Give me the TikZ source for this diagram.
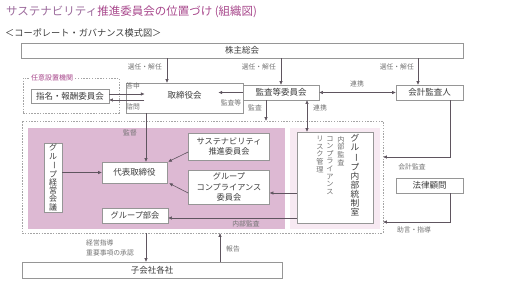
\documentclass[tikz,border=0pt]{standalone}
\usepackage{fontspec}
\setmainfont{Noto Sans CJK JP}
\usepackage{graphicx}
\usepackage{tikz}
\usetikzlibrary{arrows.meta,positioning,calc}
\definecolor{ttlpink}{RGB}{168,72,140}
\definecolor{ttlgray}{RGB}{155,105,155}
\definecolor{txtgray}{RGB}{60,60,60}
\definecolor{lblgray}{RGB}{115,115,115}
\definecolor{boxgray}{RGB}{150,150,150}
\definecolor{dashgray}{RGB}{165,165,165}
\definecolor{arrgray}{RGB}{95,85,95}
\definecolor{deeppink}{RGB}{221,185,211}
\definecolor{palepink}{RGB}{247,233,242}
\newcommand{\chouon}{\rotatebox[origin=c]{-90}{ー}}

\begin{document}
\begin{tikzpicture}[x=1pt,y=-1pt,
  box/.style={draw=boxgray,line width=0.7pt,fill=white,inner sep=0pt,text=txtgray,font=\fontsize{8.5}{10}\selectfont},
  lbl/.style={inner sep=0pt,text=lblgray,font=\fontsize{6.8}{9.5}\selectfont},
  dbox/.style={draw=dashgray,dash pattern=on 1.5pt off 1.3pt,line width=0.6pt,inner sep=0pt},
  arr/.style={draw=arrgray,line width=0.6pt,->,>={Triangle[length=3.5pt,width=3pt]}},
  darr/.style={arr,<->},
  tate/.style={inner sep=0pt,align=center,text=txtgray}]
  \useasboundingbox (0,0) rectangle (523,285); % 画像全体の枠
  \fill[deeppink] (28,128) rectangle (285,229); % 執行側（濃いピンク）
  \fill[palepink] (290,128) rectangle (380,229); % 内部統制側（薄いピンク）
  \node[anchor=west,inner sep=0pt,font=\fontsize{11.5}{13}\selectfont] (title) at (6,12) {\textcolor{ttlgray}{サステナビリティ}\textcolor{ttlpink}{推進委員会の位置づけ (組織図)}}; % 見出し
  \node[anchor=west,inner sep=0pt,text=txtgray,font=\fontsize{9.2}{11}\selectfont] (sub) at (5,33) {＜コーポレート・ガバナンス模式図＞}; % 小見出し
  \node[box,minimum width=442pt,minimum height=15pt] (kabu) at (242,50.5) {株主総会}; % 最上段
  \node[dbox,minimum width=96pt,minimum height=35pt] (nini) at (71,95.5) {}; % 任意設置機関の点線枠
  \node[anchor=west,inner sep=1pt,fill=white,text=ttlpink,font=\fontsize{7}{8}\selectfont] (ninilbl) at (30,78) {任意設置機関};
  \node[box,minimum width=78pt,minimum height=14pt] (shimei) at (70,96) {指名・報酬委員会};
  \node[box,minimum width=117pt,minimum height=30pt,text height=7.5pt,text depth=7pt] (torishimari) at (184.5,98) {取締役会};
  \node[box,minimum width=76pt,minimum height=15pt] (kansa) at (281,92.5) {監査等委員会};
  \node[box,minimum width=67pt,minimum height=15pt] (kaikei) at (429.5,92.5) {会計監査人};
  \node[dbox,minimum width=361pt,minimum height=112pt] (group) at (202.5,177) {}; % グループ全体の点線枠
  \node[box,minimum width=18pt,minimum height=69pt,align=center,font=\fontsize{8}{8.2}\selectfont] (keiei) at (53,177.5) {グ\\ル\\\chouon\\プ\\経\\営\\会\\議}; % 縦書き
  \node[box,minimum width=65pt,minimum height=21pt] (daihyo) at (134.5,172.5) {代表取締役};
  \node[box,minimum width=81pt,minimum height=27pt,align=center,font=\fontsize{8.2}{10.5}\selectfont] (suishin) at (229,146.5) {サステナビリティ\\推進委員会};
  \node[box,minimum width=81pt,minimum height=34pt,align=center,font=\fontsize{8.2}{10.5}\selectfont] (comp) at (229,187) {グループ\\コンプライアンス\\委員会};
  \node[box,minimum width=66pt,minimum height=15pt,font=\fontsize{8.2}{10}\selectfont] (bukai) at (135,215.5) {グループ部会};
  \node[box,minimum width=76pt,minimum height=91pt] (naibu) at (335,177.5) {}; % 内部統制室の枠
  \node[tate,anchor=north,font=\fontsize{8.7}{9.1}\selectfont] (naibuT) at (355,134) {グ\\ル\\\chouon\\プ\\内\\部\\統\\制\\室};
  \node[tate,anchor=north,text=lblgray,font=\fontsize{7.2}{7.6}\selectfont] (naibuA) at (341,136) {内\\部\\監\\査};
  \node[tate,anchor=north,text=lblgray,font=\fontsize{7.2}{7.6}\selectfont] (naibuB) at (330,136) {コ\\ン\\プ\\ラ\\イ\\ア\\ン\\ス};
  \node[tate,anchor=north,text=lblgray,font=\fontsize{7.2}{7.6}\selectfont] (naibuC) at (320,136) {リ\\ス\\ク\\管\\理};
  \node[box,minimum width=67pt,minimum height=15pt] (houritsu) at (429.5,185.5) {法律顧問};
  \node[box,minimum width=260pt,minimum height=16pt] (kogaisha) at (152,270) {子会社各社}; % 最下段
  % 矢印
  \draw[arr] (kabu.south -| 167,0) -- (torishimari.north -| 167,0);
  \draw[arr] (kabu.south -| kansa.north) -- (kansa.north);
  \draw[arr] (kabu.south -| 418,0) -- (kaikei.north -| 418,0);
  \draw[arr] (shimei.east |- 0,94) -- ++(35,0); % 答申
  \draw[arr] (shimei.east |- 0,100) ++(35,0) -- (shimei.east |- 0,100); % 諮問
  \draw[arr] (kansa.west) -- ++(-24,0);
  \draw[darr] (kansa.east) -- (kaikei.west);
  \draw[arr] (torishimari.south -| 146,0) -- (daihyo.north -| 146,0); % 監督
  \draw[arr] (kansa.south -| 266,0) -- (group.north -| 266,0); % 監査
  \draw[darr] (kansa.south -| 307,0) -- (naibu.north -| 307,0);
  \draw[arr] (kaikei.south -| 450,0) |- (group.east |- 0,157);
  \draw[arr] (houritsu.south -| 450,0) |- (group.east |- 0,222);
  \draw[arr] (keiei.east |- daihyo) -- (daihyo.west);
  \draw[arr] (suishin.west |- 0,152) -- ([xshift=1pt]daihyo.north east);
  \draw[arr] (comp.west |- 0,193) -- ([xshift=2pt]daihyo.south east);
  \draw[arr] (naibu.west |- 0,193) -- (comp.east |- 0,193);
  \draw[arr] (naibu.west |- 0,218) -- (bukai.east |- 0,218);
  \draw[arr] (group.south -| 146,0) -- (kogaisha.north -| 146,0);
  \draw[arr] (kogaisha.north -| 220,0) -- (group.south -| 220,0);
  % ラベル
  \node[lbl,anchor=east] (sen1) at (162,67) {選任・解任};
  \node[lbl,anchor=east] (sen2) at (276,67) {選任・解任};
  \node[lbl,anchor=east] (sen3) at (414,67) {選任・解任};
  \node[lbl] (toshin) at (133,86) {答申};
  \node[lbl] (shimon) at (133,107) {諮問};
  \node[lbl] (kansato) at (231,103) {監査等};
  \node[lbl] (renkei1) at (357,84) {連携};
  \node[lbl,anchor=east] (kansalbl) at (262,108) {監査};
  \node[lbl,anchor=west] (renkei2) at (313,108) {連携};
  \node[lbl] (kantoku) at (130,133) {監督};
  \node[lbl] (naibukansa) at (246,224) {内部監査};
  \node[lbl] (kaikeikansa) at (412,167) {会計監査};
  \node[lbl] (jogen) at (414,230) {助言・指導};
  \node[lbl,anchor=west,align=left] (shido) at (86,248) {経営指導\\重要事項の承認};
  \node[lbl,anchor=west] (hokoku) at (226,249) {報告};
\end{tikzpicture}
\end{document}
